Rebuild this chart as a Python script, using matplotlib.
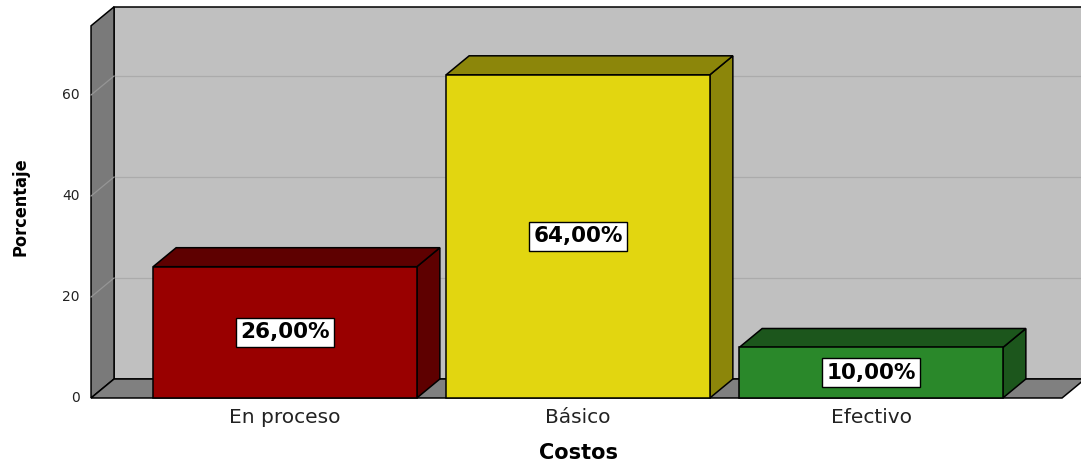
import matplotlib
matplotlib.use("Agg")
import matplotlib.pyplot as plt
from matplotlib.patches import Polygon

# Data
categories = ["En proceso", "Básico", "Efectivo"]
percent = [26.0, 64.0, 10.0]
value_labels = ["26,00%", "64,00%", "10,00%"]
y_ticks = [0, 20, 40, 60]
x_title = "Costos"
y_title = "Porcentaje"

# Styling
front_colors = ["#990000", "#E2D610", "#2A882A"]
shade_colors = ["#5E0000", "#8C860A", "#1C561C"]
wall_back = "#C0C0C0"
wall_side = "#7A7A7A"
floor_col = "#808080"
grid_col = "#ABABAB"

BAR_W = 0.90
DX, DY = 0.0785, 3.76          # depth offset of the pseudo-3D box
Y_TOP = 73.7                   # top of the value axis (front)
X_LEFT = -0.662                # front edge of the left wall
X_FLOOR_R = 2.652              # front-right corner of the floor
EDGE = 1.1

fig = plt.figure(figsize=(10.81, 4.65), dpi=100)
ax = fig.add_axes([0, 0, 1, 1])
ax.set_xlim(-0.9727, 2.7167)
ax.set_ylim(-13.27, 78.81)
ax.axis("off")


def poly(pts, fc, ec="black", lw=EDGE, z=1):
    ax.add_patch(Polygon(pts, closed=True, facecolor=fc, edgecolor=ec,
                         linewidth=lw, joinstyle="miter", zorder=z))


xr = 3.0
# back wall
poly([(X_LEFT + DX, DY), (xr, DY), (xr, Y_TOP + DY), (X_LEFT + DX, Y_TOP + DY)],
     wall_back, z=1)
# gridlines on the back wall
for t in y_ticks[1:]:
    ax.plot([X_LEFT + DX, xr], [t + DY, t + DY], color=grid_col, lw=0.9, zorder=2)
# left side wall
poly([(X_LEFT, 0), (X_LEFT, Y_TOP), (X_LEFT + DX, Y_TOP + DY), (X_LEFT + DX, DY)],
     wall_side, z=3)
for t in y_ticks[1:]:
    ax.plot([X_LEFT, X_LEFT + DX], [t, t + DY], color="#959595", lw=0.9, zorder=4)
# floor
poly([(X_LEFT, 0), (X_FLOOR_R, 0), (X_FLOOR_R + DX, DY), (X_LEFT + DX, DY)],
     floor_col, z=3)

# bars
for i, (v, fc, sc, lab) in enumerate(zip(percent, front_colors, shade_colors, value_labels)):
    x0, x1 = i - BAR_W / 2, i + BAR_W / 2
    poly([(x1, 0), (x1 + DX, DY), (x1 + DX, v + DY), (x1, v)], sc, z=5)
    poly([(x0, v), (x1, v), (x1 + DX, v + DY), (x0 + DX, v + DY)], sc, z=5)
    poly([(x0, 0), (x1, 0), (x1, v), (x0, v)], fc, z=6)
    ax.text(i, v / 2, lab, ha="center", va="center", fontsize=15.5,
            fontweight="bold", color="black", zorder=8,
            bbox=dict(boxstyle="square,pad=0.2", fc="white", ec="black", lw=1.0))

# value axis labels
for t in y_ticks:
    ax.text(-0.6997, t, str(t), ha="right", va="center", fontsize=10,
            color="#222222", zorder=8)

# category labels
for i, c in enumerate(categories):
    ax.text(i, -5.0, c, ha="center", va="baseline", fontsize=14.5,
            color="#222222", zorder=8)

ax.text(1.0, -12.1, x_title, ha="center", va="baseline", fontsize=15,
        fontweight="bold", color="black", zorder=8)
ax.text(-0.9044, 37.8, y_title, ha="center", va="center", rotation=90,
        fontsize=13, fontweight="bold", fontstretch="condensed", color="black",
        zorder=8, family=["Liberation Sans Narrow", "DejaVu Sans"])

fig.savefig("out.png", dpi=100, facecolor="white")
